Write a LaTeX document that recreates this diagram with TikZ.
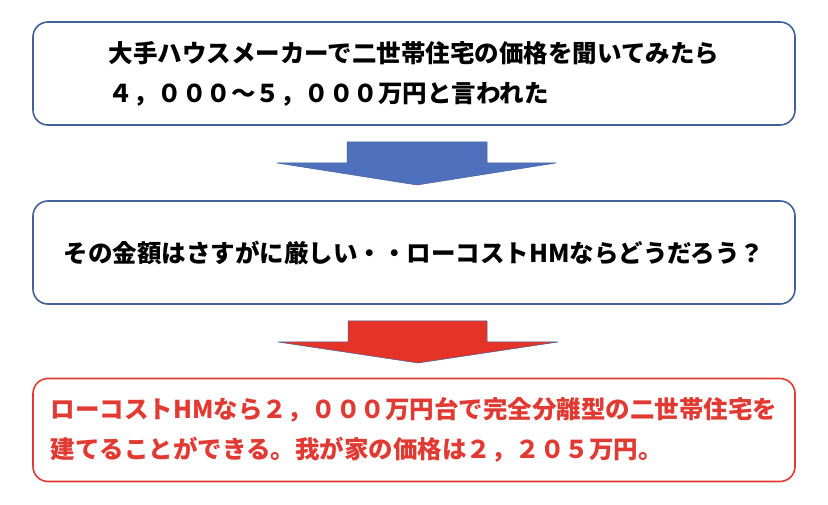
\documentclass[tikz,border=0pt]{standalone}
\usepackage{fontspec}
\setmainfont{Noto Sans CJK JP}
\definecolor{boxblue}{HTML}{41619A}
\definecolor{arrblue}{HTML}{4F70BD}
\definecolor{arrred}{HTML}{E53427}
\definecolor{txtred}{HTML}{E03A33}
\begin{document}
\begin{tikzpicture}[x=1pt,y=-1pt,
  box/.style={draw=boxblue,line width=1.6pt,rounded corners=15pt,minimum width=762pt,minimum height=103pt,align=left,font=\fontsize{24.5}{40}\selectfont\bfseries,inner sep=0pt},
  redbox/.style={box,draw=txtred,text=txtred},
  blockarrow/.style={draw=boxblue,line width=0.5pt}]
\useasboundingbox (0,0) rectangle (828,505);
\fill[white] (0,0) rectangle (828,505);
\node[box] (b1) at (414,73.5) {大手ハウスメーカーで二世帯住宅の価格を聞いてみたら\\４，０００～５，０００万円と言われた};
\node[box] (b2) at (414,252.5) {その金額はさすがに厳しい・・ローコストHMならどうだろう？};
\node[redbox] (b3) at (414,430) {ローコストHMなら２，０００万円台で完全分離型の二世帯住宅を\\建てることができる。我が家の価格は２，２０５万円。};
\draw[blockarrow,fill=arrblue] (347,142) -- (487,142) -- (487,163) -- (556,163) -- (417,185) -- (277,163) -- (347,163) -- cycle;
\draw[blockarrow,fill=arrred] (348,321) -- (487,321) -- (487,342) -- (558,342) -- (418,363) -- (278,342) -- (348,342) -- cycle;
\end{tikzpicture}
\end{document}
